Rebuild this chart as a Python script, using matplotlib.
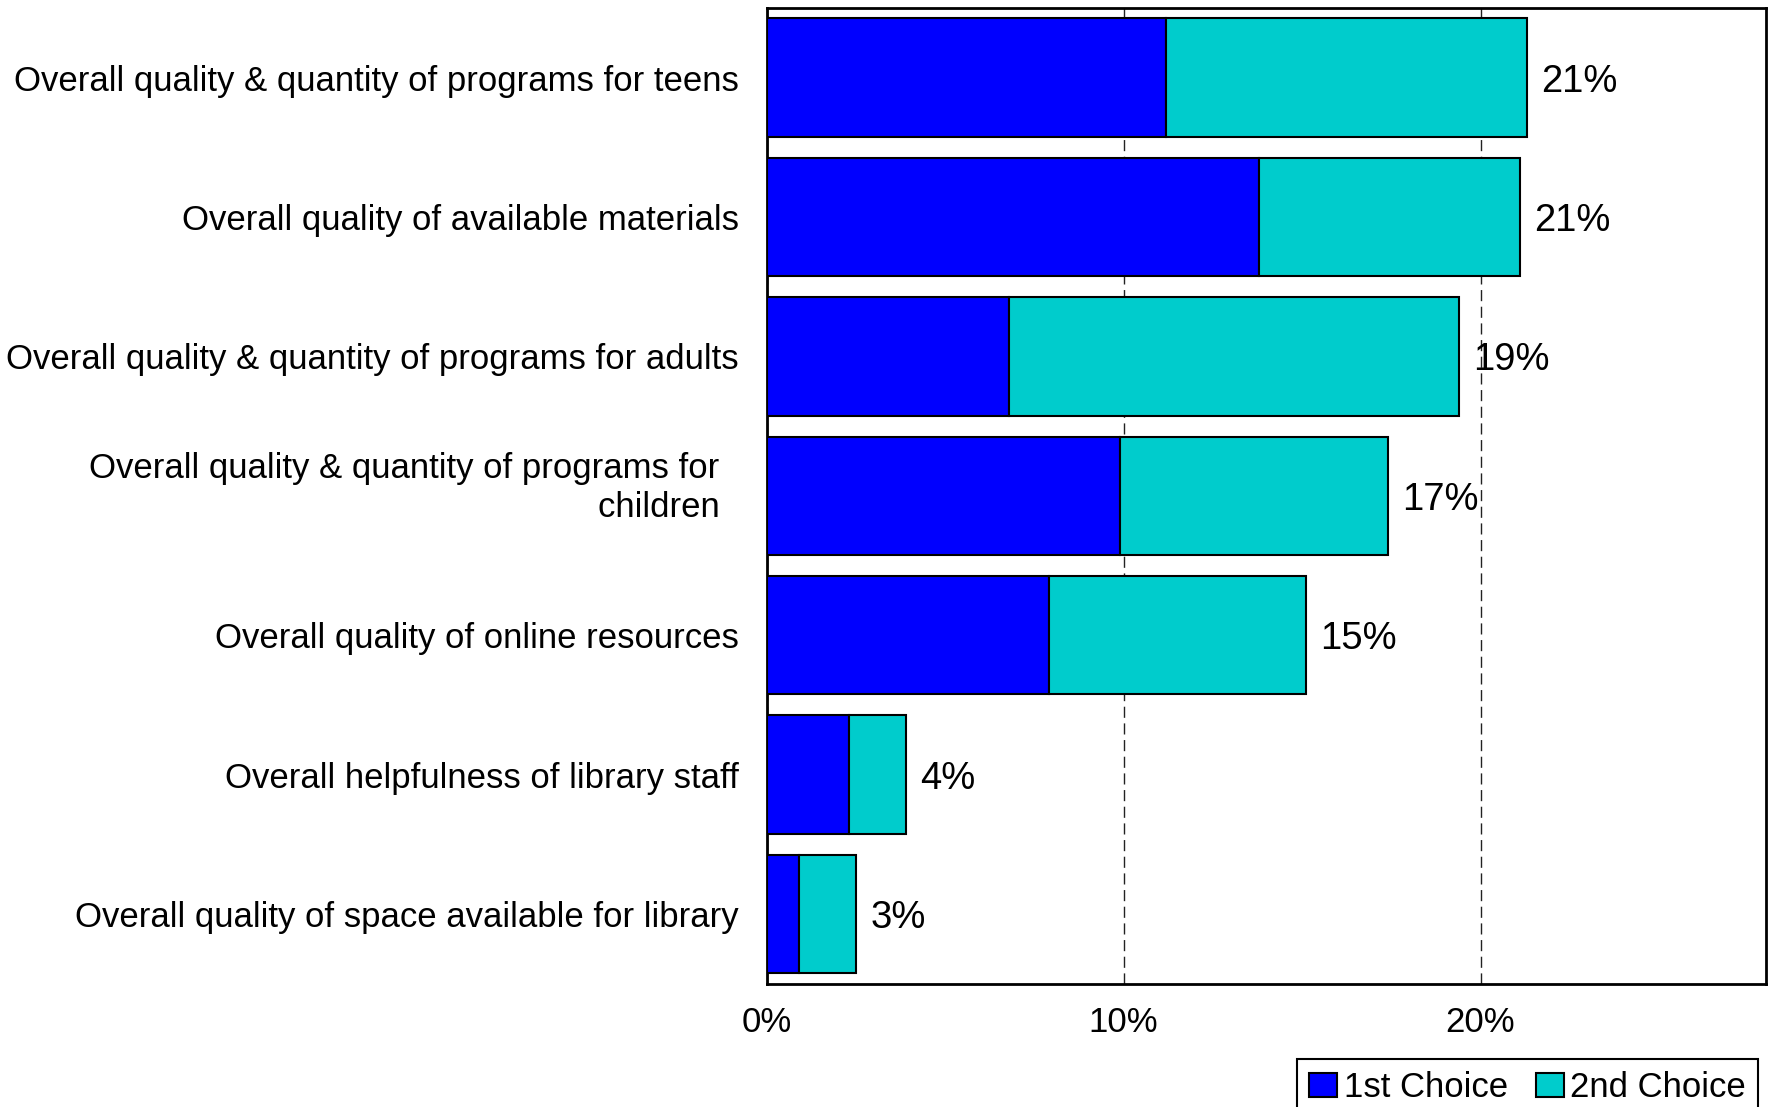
import numpy as np
import matplotlib
matplotlib.use('Agg')
import matplotlib.pyplot as plt
import matplotlib as mpl

# top driver of overall satisfaction, first and second choice shares (%)
categories = [
    'Overall quality & quantity of programs for teens',
    'Overall quality of available materials',
    'Overall quality & quantity of programs for adults',
    'Overall quality & quantity of programs for  \nchildren  ',
    'Overall quality of online resources',
    'Overall helpfulness of library staff',
    'Overall quality of space available for library',
]
first_choice = [11.2, 13.8, 6.8, 9.9, 7.9, 2.3, 0.9]
second_choice = [10.1, 7.3, 12.6, 7.5, 7.2, 1.6, 1.6]
total_labels = ['21%', '21%', '19%', '17%', '15%', '4%', '3%']
xticks = [0, 10, 20]

plt.rcParams['font.family'] = ['Liberation Sans', 'DejaVu Sans']
fs = 25

fig = plt.figure(figsize=(17.73, 11.07), dpi=100)
ax = fig.add_axes([0.4324, 0.1114, 0.9961 - 0.4324, 0.9928 - 0.1114])

y = np.arange(len(categories))
first = np.array(first_choice)
second = np.array(second_choice)

ax.barh(y, first, height=0.85, color='#0000FF', edgecolor='black', lw=1.5,
        label='1st Choice', zorder=3)
ax.barh(y, second, left=first, height=0.85, color='#00CCCC', edgecolor='black',
        lw=1.5, label='2nd Choice', zorder=3)

for yi, tot, lab in zip(y, first + second, total_labels):
    ax.text(tot + 0.4, yi, lab, va='center_baseline', ha='left', fontsize=27.5)

ax.set_xlim(0, 28)
ax.set_ylim(len(categories) - 0.5, -0.5)
# the two-line label sits a little above its bar
ytick_pos = y.astype(float)
ytick_pos[3] -= 0.1
ax.set_yticks(ytick_pos)
ax.set_yticklabels(categories, fontsize=fs, multialignment='right',
                   linespacing=1.2)
ax.set_xticks(xticks)
ax.xaxis.set_major_formatter(mpl.ticker.PercentFormatter(decimals=0))
ax.tick_params(axis='both', length=0, labelsize=fs)
ax.tick_params(axis='y', pad=20)
ax.tick_params(axis='x', pad=16)

ax.grid(axis='x', ls=(0, (8, 4)), c='#222222', lw=1.0, zorder=0)
for sp in ax.spines.values():
    sp.set_linewidth(2)

ax.legend(loc='upper left', bbox_to_anchor=(0.7315, 0.0434),
          bbox_transform=fig.transFigure, ncol=2, fontsize=fs, frameon=True,
          fancybox=False, edgecolor='black', framealpha=1,
          handlelength=0.8, handleheight=0.7, handletextpad=0.2,
          columnspacing=0.8, borderpad=0.35, borderaxespad=0)
ax.get_legend().get_frame().set_linewidth(1.5)

fig.savefig('out.png', dpi=100)
